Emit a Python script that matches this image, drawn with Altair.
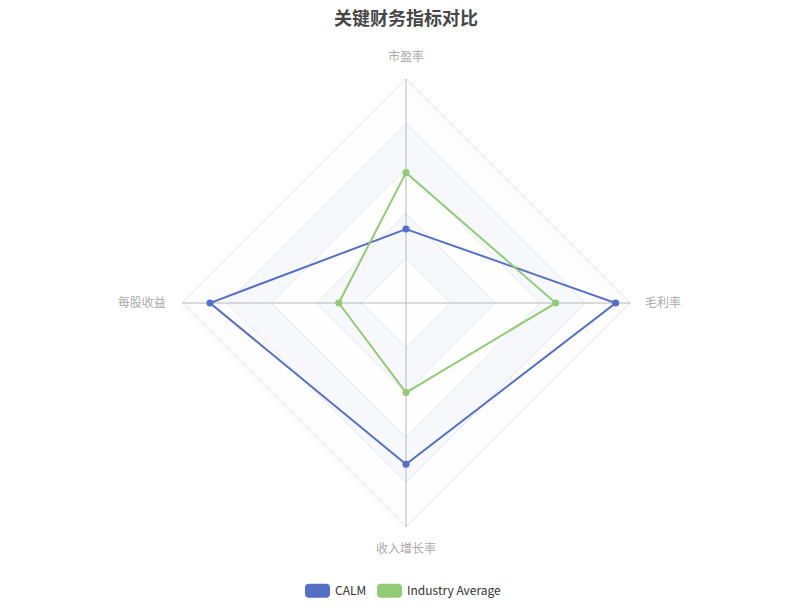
import altair as alt
import pandas as pd

# ---------------- data ----------------
categories = ["市盈率", "毛利率", "收入增长率", "每股收益"]
series_names = ["CALM", "Industry Average"]
calm_values = [0.33, 0.936, 0.72, 0.875]
industry_values = [0.582, 0.668, 0.40, 0.30]
ring_levels = [0.2, 0.4, 0.6, 0.8, 1.0]

# ---------------- styles ----------------
series_colors = ["#5470c6", "#91cc75"]
band_colors = ["#fefefe", "#f6f8fc", "#fefefe", "#f6f8fc", "#fdfdfe"]
FONT = "Noto Sans CJK SC"

N = len(categories)
rows = []
for name, vals in zip(series_names, [calm_values, industry_values]):
    for i, (c, v) in enumerate(zip(categories, vals)):
        rows.append({"series": name, "cat": c, "idx": i, "value": v, "ord": i})
    rows.append({"series": name, "cat": categories[0], "idx": 0, "value": vals[0], "ord": N})
series_df = pd.DataFrame(rows)

axis_df = pd.DataFrame({"cat": categories, "idx": list(range(N))})
ring_df = pd.DataFrame([{"level": lv, "k": k} for lv in ring_levels for k in (-1, 0, 1)])

XD = 398 / 224
YD = 263 / 224
xs = alt.Scale(domain=[-XD, XD], nice=False, zero=False)
ys = alt.Scale(domain=[-YD, YD], nice=False, zero=False)

ANG = f"PI/2 - datum.idx * 2 * PI / {N}"

# rings (split areas + split lines), drawn outer to inner
ring_layers = []
for j in range(len(ring_levels) - 1, -1, -1):
    lv = ring_levels[j]
    ring_layers.append(
        alt.Chart(ring_df)
        .transform_filter(f"datum.level == {lv}")
        .transform_calculate(
            rx="datum.k * datum.level",
            ry="datum.level - abs(datum.k * datum.level)",
            ry2="-(datum.level - abs(datum.k * datum.level))",
        )
        .mark_area(fill=band_colors[j], stroke="#e0e6f1", strokeWidth=1, opacity=1)
        .encode(
            x=alt.X("rx:Q", scale=xs, axis=None),
            y=alt.Y("ry:Q", scale=ys, axis=None),
            y2="ry2:Q",
        )
    )

axes = (
    alt.Chart(axis_df)
    .transform_calculate(a=ANG)
    .transform_calculate(ex="cos(datum.a)", ey="sin(datum.a)", zero="0")
    .mark_rule(color="#b8b8b8", strokeWidth=1)
    .encode(
        x=alt.X("zero:Q", scale=xs, axis=None),
        y=alt.Y("zero:Q", scale=ys, axis=None),
        x2="ex:Q",
        y2="ey:Q",
    )
)

def label_layer(filter_expr, radius, align):
    return (
        alt.Chart(axis_df)
        .transform_filter(filter_expr)
        .transform_calculate(a=ANG)
        .transform_calculate(lx=f"{radius} * cos(datum.a)", ly=f"{radius} * sin(datum.a)")
        .mark_text(align=align, baseline="middle", fontSize=12, color="#aaaaaa", font=FONT)
        .encode(
            x=alt.X("lx:Q", scale=xs, axis=None),
            y=alt.Y("ly:Q", scale=ys, axis=None),
            text="cat:N",
        )
    )

labels_tb = label_layer("datum.idx % 2 == 0", 1.098, "center")
labels_r = label_layer("datum.idx == 1", 1.067, "left")
labels_l = label_layer("datum.idx == 3", 1.072, "right")

base = alt.Chart(series_df).transform_calculate(a=ANG).transform_calculate(
    px="datum.value * cos(datum.a)", py="datum.value * sin(datum.a)"
)

color_scale = alt.Scale(domain=series_names, range=series_colors)

legend_path = (
    "M-0.68,-0.56 L0.68,-0.56 Q1,-0.56 1,-0.24 L1,0.24 Q1,0.56 0.68,0.56 "
    "L-0.68,0.56 Q-1,0.56 -1,0.24 L-1,-0.24 Q-1,-0.56 -0.68,-0.56 Z"
)

lines = base.mark_line(strokeWidth=2).encode(
    x=alt.X("px:Q", scale=xs, axis=None),
    y=alt.Y("py:Q", scale=ys, axis=None),
    order="ord:Q",
    color=alt.Color(
        "series:N",
        scale=color_scale,
        legend=alt.Legend(
            orient="none",
            legendX=297,
            legendY=538,
            direction="horizontal",
            title=None,
            symbolType=legend_path,
            symbolSize=625,
            symbolStrokeWidth=0,
            symbolOpacity=1,
            labelFontSize=12,
            labelColor="#333333",
            labelFont=FONT,
            labelOffset=5,
            columnPadding=10,
        ),
    ),
)

points = base.transform_filter(f"datum.ord < {N}").mark_circle(size=50, opacity=1).encode(
    x=alt.X("px:Q", scale=xs, axis=None),
    y=alt.Y("py:Q", scale=ys, axis=None),
    color=alt.Color("series:N", scale=color_scale),
)

chart = (
    alt.layer(*ring_layers, axes, labels_tb, labels_r, labels_l, lines, points)
    .properties(
        width=796,
        height=526,
        autosize=alt.AutoSizeParams(type="none"),
        padding={"top": 32, "bottom": 32, "left": 0, "right": 0},
        title=alt.Title(
            "关键财务指标对比",
            fontSize=18,
            fontWeight="bold",
            color="#464646",
            font=FONT,
            anchor="middle",
            offset=11,
        ),
    )
    .configure_view(stroke=None)
)

chart.save("out.html", embed_options={"renderer": "svg", "actions": False})
